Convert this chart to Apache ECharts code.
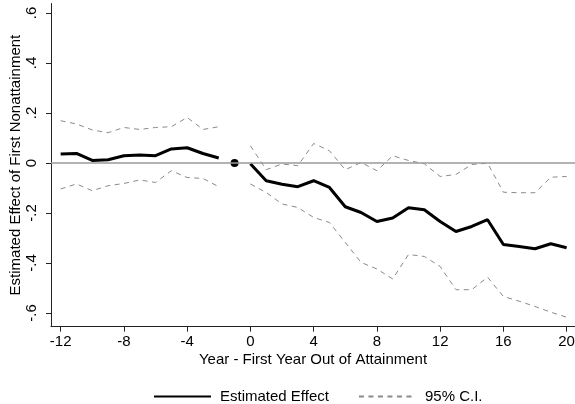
<!DOCTYPE html>
<html>
<head>
<meta charset="utf-8">
<script src="https://cdn.jsdelivr.net/npm/echarts@6/dist/echarts.min.js"></script>
<style>
html,body{margin:0;padding:0;background:#fff;}
#chart{width:575px;height:404px;}
</style>
</head>
<body>
<div id="chart"></div>
<script>
var years = [-12,-11,-10,-9,-8,-7,-6,-5,-4,-3,-2,-1,0,1,2,3,4,5,6,7,8,9,10,11,12,13,14,15,16,17,18,19,20];
var estimate = [0.036,0.038,0.010,0.013,0.029,0.032,0.029,0.056,0.061,0.038,0.020, null,
  -0.003,-0.071,-0.085,-0.095,-0.071,-0.098,-0.175,-0.198,-0.234,-0.220,-0.179,-0.187,-0.234,-0.274,-0.254,-0.227,-0.326,-0.334,-0.343,-0.323,-0.339];
var ciUpper = [0.169,0.156,0.132,0.121,0.142,0.134,0.142,0.145,0.182,0.134,0.145, null,
  0.069,-0.027,-0.004,-0.011,0.078,0.049,-0.027,0.002,-0.031,0.029,0.010,-0.003,-0.054,-0.046,-0.006,-0.001,-0.117,-0.119,-0.119,-0.057,-0.054];
var ciLower = [-0.104,-0.084,-0.111,-0.091,-0.082,-0.068,-0.078,-0.031,-0.058,-0.062,-0.095, null,
  -0.084,-0.118,-0.164,-0.178,-0.218,-0.238,-0.318,-0.398,-0.424,-0.464,-0.366,-0.374,-0.414,-0.507,-0.507,-0.457,-0.534,-0.553,-0.574,-0.597,-0.617];
var refYear = [-1];
var refValue = [0];
var xTicks = [-12,-8,-4,0,4,8,12,16,20];
var yTicks = [-0.6,-0.4,-0.2,0,0.2,0.4,0.6];
var yTickLabels = ['-.6','-.4','-.2','0','.2','.4','.6'];

function pairs(vals){
  return years.map(function(x,i){ return [x, vals[i] === null ? '-' : vals[i]]; });
}
var FONT = 'Liberation Sans, Arial, sans-serif';
var chart = echarts.init(document.getElementById('chart'), null, {renderer:'canvas'});
var ciStyle = {color:'#8a8a8a', width:1, type:[5,4.5]};
chart.setOption({
  animation:false,
  backgroundColor:'#fff',
  textStyle:{fontFamily:FONT, color:'#000'},
  grid:{left:51, right:0, top:3.5, bottom:77.3, containLabel:false, outerBoundsMode:'none'},
  legend:{
    left:148, top:384, itemWidth:57, itemHeight:14, itemGap:29,
    itemStyle:{color:'rgba(0,0,0,0)', borderColor:'rgba(0,0,0,0)', borderWidth:0},
    textStyle:{fontFamily:FONT, fontSize:15, color:'#000', padding:[0,0,0,4]},
    data:['Estimated Effect','95% C.I.']
  },
  xAxis:{
    type:'value', min:-12.61, max:20.53,
    name:'Year - First Year Out of Attainment', nameLocation:'middle', nameGap:26, nameMoveOverlap:false,
    nameTextStyle:{fontFamily:FONT, fontSize:15, color:'#000'},
    axisLine:{onZero:false, lineStyle:{color:'#222', width:1}},
    axisTick:{show:true, length:5, lineStyle:{color:'#222'}, customValues:xTicks},
    axisLabel:{fontSize:15, color:'#000', margin:8, customValues:xTicks},
    splitLine:{show:false}
  },
  yAxis:{
    type:'value', min:-0.655, max:0.638,
    name:'Estimated Effect of First Nonattainment', nameLocation:'middle', nameGap:28, nameMoveOverlap:false,
    nameTextStyle:{fontFamily:FONT, fontSize:15, color:'#000'},
    axisLine:{show:true, onZero:false, lineStyle:{color:'#222', width:1}},
    axisTick:{show:true, length:5, lineStyle:{color:'#222'}, customValues:yTicks},
    axisLabel:{fontSize:15, color:'#000', margin:12, rotate:90, customValues:yTicks,
      formatter:function(v){
        for (var i=0;i<yTicks.length;i++){ if (Math.abs(yTicks[i]-v)<1e-6) return yTickLabels[i]; }
        return '';
      }},
    splitLine:{show:false}
  },
  series:[
    {name:'95% C.I.', type:'line', data:pairs(ciUpper), symbol:'none', showSymbol:false,
     lineStyle:ciStyle, itemStyle:{color:'#8a8a8a'}, z:2,
     markLine:{silent:true, symbol:'none', label:{show:false},
       lineStyle:{color:'#9a9a9a', width:1.5, type:'solid'}, data:[{yAxis:0}]}},
    {name:'95% C.I.', type:'line', data:pairs(ciLower), symbol:'none', showSymbol:false,
     lineStyle:ciStyle, itemStyle:{color:'#8a8a8a'}, z:2},
    {name:'Estimated Effect', type:'line', data:pairs(estimate), symbol:'none', showSymbol:false,
     lineStyle:{color:'#000', width:3}, itemStyle:{color:'#000'}, z:3},
    {name:'ref', type:'scatter', data:refYear.map(function(x,i){return [x, refValue[i]];}),
     symbol:'circle', symbolSize:8, itemStyle:{color:'#000', opacity:1}, z:4}
  ]
});
</script>
</body>
</html>
